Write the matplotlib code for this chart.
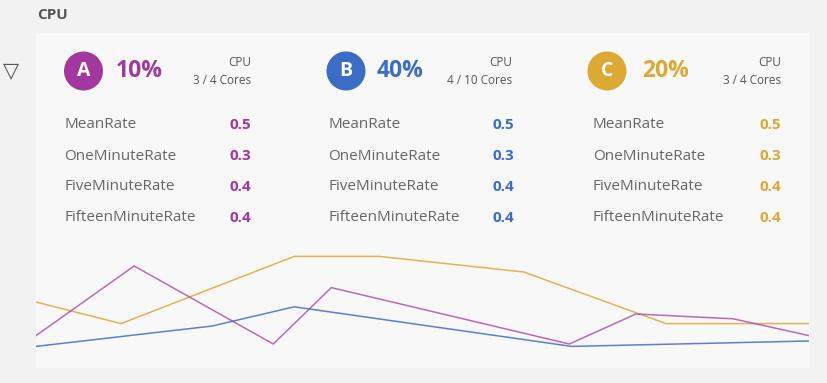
import matplotlib
matplotlib.use("Agg")
import matplotlib.pyplot as plt
from matplotlib.patches import Rectangle, Ellipse

plt.rcParams['font.family'] = ['Open Sans', 'DejaVu Sans']

W, H = 827, 383

# ---- data ----
title = "CPU"
hosts = ["A", "B", "C"]
cpu_pct = ["10%", "40%", "20%"]
cores = ["3 / 4 Cores", "4 / 10 Cores", "3 / 4 Cores"]
metric_names = ["MeanRate", "OneMinuteRate", "FiveMinuteRate", "FifteenMinuteRate"]
values_a = [0.5, 0.3, 0.4, 0.4]
values_b = [0.5, 0.3, 0.4, 0.4]
values_c = [0.5, 0.3, 0.4, 0.4]
colors = ["#a2389f", "#3c6dc6", "#dba934"]

t_a = [0, 12.7, 30.7, 38.2, 69, 77.6, 90.2, 100]
y_a = [27, 85, 20, 67, 20, 45, 41, 27]
t_b = [0, 22.8, 33.4, 69.3, 100]
y_b = [18, 35, 51, 18, 22.5]
t_c = [0, 11, 33.4, 44.4, 63.1, 81.5, 100]
y_c = [55, 37, 93, 93, 80, 37, 37]

fig = plt.figure(figsize=(W / 100, H / 100), dpi=100)
fig.patch.set_facecolor("#f2f2f2")


def fx(px):
    return px / W


def fy(py):
    return 1 - py / H


# panel
fig.patches.append(Rectangle((fx(36), fy(368)), fx(810) - fx(36), fy(33) - fy(368),
                             transform=fig.transFigure, facecolor="#f8f8f8",
                             edgecolor="none", zorder=-5))

fig.text(fx(37), fy(15), title, fontsize=11, fontweight="bold", color="#555555",
         va="center", ha="left")
fig.text(fx(11), fy(71), "\u25BD", fontsize=15, color="#555555", va="center", ha="center",
         family=['DejaVu Sans'])

circle_x = [83.5, 346, 607]
pct_x = [116, 377, 642]
right_x = [251, 512, 781]
label_x = [64, 328, 593]
val_right = [251, 514, 781]
row_y = [125, 156, 187, 218]
all_vals = [values_a, values_b, values_c]

for i in range(3):
    c = colors[i]
    circ = Ellipse((fx(circle_x[i]), fy(71)), 39 / W, 39 / H, transform=fig.transFigure,
                   facecolor=c, edgecolor="none", zorder=1)
    fig.patches.append(circ)
    fig.text(fx(circle_x[i]), fy(71), hosts[i], fontsize=14, fontweight="bold",
             color="white", ha="center", va="center", zorder=3)
    fig.text(fx(pct_x[i]), fy(71), cpu_pct[i], fontsize=16.5, fontweight="bold",
             color=c, ha="left", va="center")
    fig.text(fx(right_x[i]), fy(63), "CPU", fontsize=8.5, color="#555555",
             ha="right", va="center")
    fig.text(fx(right_x[i]), fy(81), cores[i], fontsize=8.5, color="#555555",
             ha="right", va="center")
    for j, name in enumerate(metric_names):
        fig.text(fx(label_x[i]), fy(row_y[j]), name, fontsize=11, color="#666666",
                 ha="left", va="center")
        fig.text(fx(val_right[i]), fy(row_y[j]), f"{all_vals[i][j]:.1f}", fontsize=11,
                 fontweight="bold", color=c, ha="right", va="center")

ax = fig.add_axes([fx(36), fy(368), fx(809) - fx(36), fy(248) - fy(368)])
ax.set_xlim(0, 100)
ax.set_ylim(0, 100)
ax.axis("off")
ax.patch.set_alpha(0)
ax.plot(t_c, y_c, color=colors[2], lw=1.1, alpha=0.85)
ax.plot(t_a, y_a, color="#b050b0", lw=1.1, alpha=0.85)
ax.plot(t_b, y_b, color=colors[1], lw=1.1, alpha=0.85)

fig.savefig("out.png", dpi=100, facecolor=fig.get_facecolor())
